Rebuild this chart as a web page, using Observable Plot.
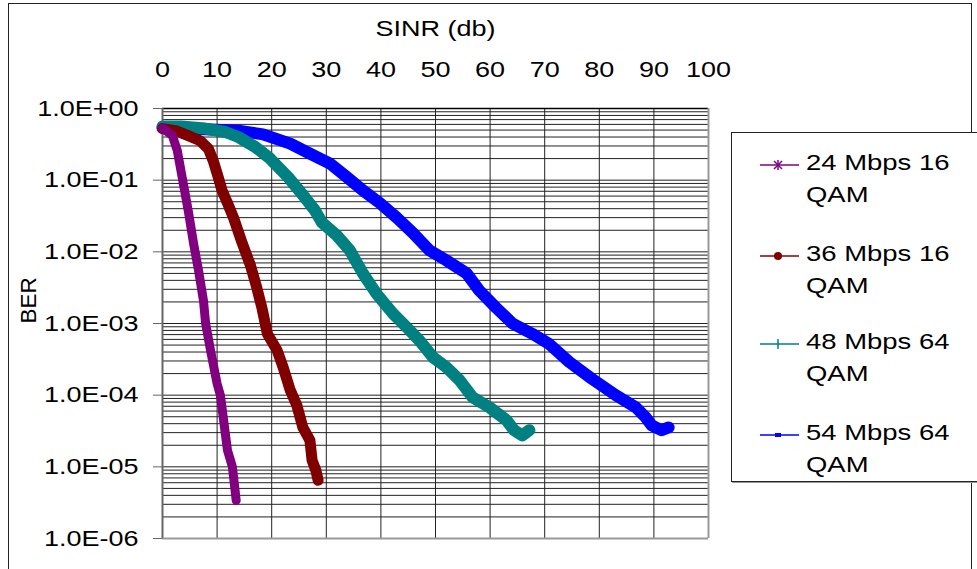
<!DOCTYPE html>
<html>
<head>
<meta charset="utf-8">
<script src="https://cdn.jsdelivr.net/npm/d3@7"></script>
<script src="https://cdn.jsdelivr.net/npm/@observablehq/plot@0.6"></script>
<style>
  html, body { margin: 0; padding: 0; background: #fff; }
  #wrap { position: relative; width: 977px; height: 569px; overflow: hidden; font-family: "Liberation Sans", Arial, sans-serif; }
  #border { position: absolute; left: 8px; top: 3px; width: 964px; height: 620px; border: 1px solid #222; box-sizing: border-box; pointer-events: none; }
  #chart { position: absolute; left: 0; top: 0; }
  #legend { position: absolute; left: 731px; top: 132px; width: 270px; height: 350px; border: 1px solid #222; box-sizing: border-box; background: #fff; box-shadow: 1px 1px 0 #999; }
  .entry { position: absolute; left: 806px; font-size: 22.5px; line-height: 32px; color: #000; white-space: nowrap; transform: scaleX(1.22); transform-origin: left center; }
  .sym { position: absolute; left: 758px; }
</style>
</head>
<body>
<div id="wrap">
  <div id="border"></div>
  <div id="chart"></div>
  <div id="legend"></div>
</div>
<script>
// ---- Data ----
const xTickLabels = [0, 10, 20, 30, 40, 50, 60, 70, 80, 90, 100];
const yDecades = [1e-6, 1e-5, 1e-4, 1e-3, 1e-2, 1e-1, 1];
const yTickLabels = ["1.0E-06", "1.0E-05", "1.0E-04", "1.0E-03", "1.0E-02", "1.0E-01", "1.0E+00"];

const seriesNames = ["24 Mbps 16 QAM", "36 Mbps 16 QAM", "48 Mbps 64 QAM", "54 Mbps 64 QAM"];
const seriesColors = ["#800080", "#800000", "#008080", "#0000ff"];

const sinr24 = [0, 0.5, 1.8, 2.7, 3.6, 4.7, 5.7, 6.6, 7.5, 7.9, 8.8, 10.0, 10.6, 11.9, 12.8, 13.5];
const ber24  = [0.53, 0.50, 0.42, 0.26, 0.11, 0.038, 0.013, 0.0055, 0.0021, 0.001, 0.00042, 0.000145, 0.0001, 0.000017, 0.00001, 0.0000034];

const sinr36 = [0, 2.4, 4.7, 6.9, 8.4, 9.3, 10.2, 10.9, 11.9, 13.0, 14.6, 16.1, 17.3, 18.2, 19.2, 21.0, 22.1, 23.4, 24.6, 25.7, 27.0, 27.4, 28.1, 28.5];
const ber36  = [0.525, 0.49, 0.417, 0.355, 0.275, 0.186, 0.110, 0.072, 0.048, 0.030, 0.0132, 0.0065, 0.0031, 0.00166, 0.00072, 0.00042, 0.000245, 0.000117, 0.0000724, 0.0000355, 0.0000234, 0.0000123, 0.0000089, 0.0000065];

const sinr48 = [0, 3.3, 7.8, 11.5, 13.9, 17.0, 19.7, 23.0, 25.5, 27.9, 29.2, 31.9, 34.3, 36.7, 39.2, 42.2, 44.7, 47.1, 49.5, 52.0, 54.4, 56.8, 59.9, 63.0, 64.4, 65.9, 67.2];
const ber48  = [0.56, 0.56, 0.525, 0.47, 0.40, 0.29, 0.20, 0.11, 0.065, 0.038, 0.0257, 0.017, 0.0105, 0.005, 0.0026, 0.00138, 0.00089, 0.000575, 0.00034, 0.000245, 0.000162, 0.0000933, 0.0000676, 0.0000447, 0.0000324, 0.0000275, 0.0000324];

const sinr54 = [0, 4.7, 13.9, 18.4, 23.4, 27.0, 30.7, 33.8, 36.7, 39.8, 42.9, 45.8, 48.9, 52.0, 55.7, 58.0, 61.1, 64.1, 67.7, 70.8, 74.5, 78.6, 83.0, 86.7, 88.5, 89.6, 91.4, 92.7];
const ber54  = [0.537, 0.525, 0.49, 0.436, 0.324, 0.234, 0.17, 0.11, 0.072, 0.048, 0.030, 0.0186, 0.0105, 0.0076, 0.005, 0.0029, 0.00166, 0.001, 0.00072, 0.00052, 0.00029, 0.00017, 0.0001, 0.0000676, 0.000049, 0.000038, 0.0000324, 0.0000355];

// ---- Build tables ----
const toRows = (xs, ys) => xs.map((x, i) => ({sinr: x, ber: ys[i]}));
const rows24 = toRows(sinr24, ber24);
const rows36 = toRows(sinr36, ber36);
const rows48 = toRows(sinr48, ber48);
const rows54 = toRows(sinr54, ber54);

const minorY = [];
for (let k = -6; k < 0; k++) for (let m = 1; m <= 9; m++) minorY.push(m * Math.pow(10, k));
const decadeRows = yDecades.map((d, i) => ({v: d, label: yTickLabels[i]}));

const bandLine = (rows, color, w) => Plot.line(rows, {x: "sinr", y: "ber", stroke: color, strokeWidth: w, strokeLinejoin: "round", strokeLinecap: "round", curve: "linear"});

const chart = Plot.plot({
  width: 977,
  height: 569,
  marginLeft: 162,
  marginRight: 269,
  marginTop: 108,
  marginBottom: 31,
  x: {domain: [0, 100], axis: null},
  y: {type: "log", domain: [1e-6, 1], axis: null},
  style: {fontFamily: "'Liberation Sans', Arial, sans-serif", fontSize: "22.5px", background: "transparent", color: "#000"},
  marks: [
    Plot.ruleY(minorY, {stroke: "#222", strokeWidth: 1}),
    Plot.ruleX(xTickLabels, {stroke: "#222", strokeWidth: 1}),
    Plot.ruleY([1], {stroke: "#000", strokeWidth: 1.5}),
    Plot.ruleY([1e-6], {stroke: "#999", strokeWidth: 2}),
    Plot.ruleX([100], {stroke: "#999", strokeWidth: 2}),
    Plot.ruleX([0], {stroke: "#666", strokeWidth: 2}),
    Plot.axisY({ticks: yDecades, tickSize: 9, tickFormat: () => "", stroke: "#666"}),
    bandLine(rows54, seriesColors[3], 12),
    bandLine(rows48, seriesColors[2], 12),
    bandLine(rows36, seriesColors[1], 11),
    bandLine(rows24, seriesColors[0], 9),
    Plot.text(xTickLabels, {x: d => d, text: d => String(d), frameAnchor: "top", dy: -39, lineAnchor: "middle", fontSize: 22.5}),
    Plot.text(decadeRows, {y: "v", text: "label", frameAnchor: "left", textAnchor: "end", dx: -24, lineAnchor: "middle", fontSize: 22.5}),
    Plot.text(["SINR (db)"], {frameAnchor: "top", dy: -80, lineAnchor: "middle", fontSize: 22.5}),
    Plot.text(["BER"], {frameAnchor: "left", dx: -134, rotate: -90, lineAnchor: "middle", fontSize: 22.5})
  ]
});
document.getElementById("chart").appendChild(chart);

// The reference's lettering is drawn horizontally stretched; widen non-rotated labels to match.
chart.querySelectorAll("text").forEach(t => {
  const tr = t.getAttribute("transform") || "";
  if (tr.includes("rotate")) return;
  if (tr) {
    t.setAttribute("transform", tr + " scale(1.2,1)");
  } else {
    const x = +(t.getAttribute("x") || 0), y = +(t.getAttribute("y") || 0);
    t.setAttribute("transform", `translate(${x},${y}) scale(1.2,1) translate(${-x},${-y})`);
  }
});

// ---- Legend ----
const wrap = document.getElementById("wrap");
const entryY = [163, 254, 342, 433];
const symbols = [
  c => `<line x1="2" y1="6" x2="41" y2="6" stroke="${c}" stroke-width="1.5"/><g stroke="${c}" stroke-width="1.5"><line x1="20" y1="1" x2="20" y2="11"/><line x1="16" y1="2" x2="24" y2="10"/><line x1="24" y1="2" x2="16" y2="10"/></g>`,
  c => `<line x1="2" y1="6" x2="41" y2="6" stroke="${c}" stroke-width="1.5"/><circle cx="20" cy="6" r="4" fill="${c}"/>`,
  c => `<line x1="2" y1="6" x2="41" y2="6" stroke="${c}" stroke-width="1.5"/><line x1="20" y1="1" x2="20" y2="11" stroke="${c}" stroke-width="1.5"/>`,
  c => `<line x1="2" y1="6" x2="41" y2="6" stroke="${c}" stroke-width="1.5"/><rect x="17" y="4" width="6" height="4" fill="${c}"/>`
];
seriesNames.forEach((name, i) => {
  const parts = name.split(" ");
  const line1 = parts.slice(0, 3).join(" ");
  const line2 = parts.slice(3).join(" ");
  const t = document.createElement("div");
  t.className = "entry";
  t.style.top = (entryY[i] - 16) + "px";
  t.innerHTML = line1 + "<br>" + line2;
  wrap.appendChild(t);
  const s = document.createElement("div");
  s.className = "sym";
  s.style.top = (entryY[i] - 6) + "px";
  s.innerHTML = `<svg width="44" height="12">${symbols[i](seriesColors[i])}</svg>`;
  wrap.appendChild(s);
});
</script>
</body>
</html>
